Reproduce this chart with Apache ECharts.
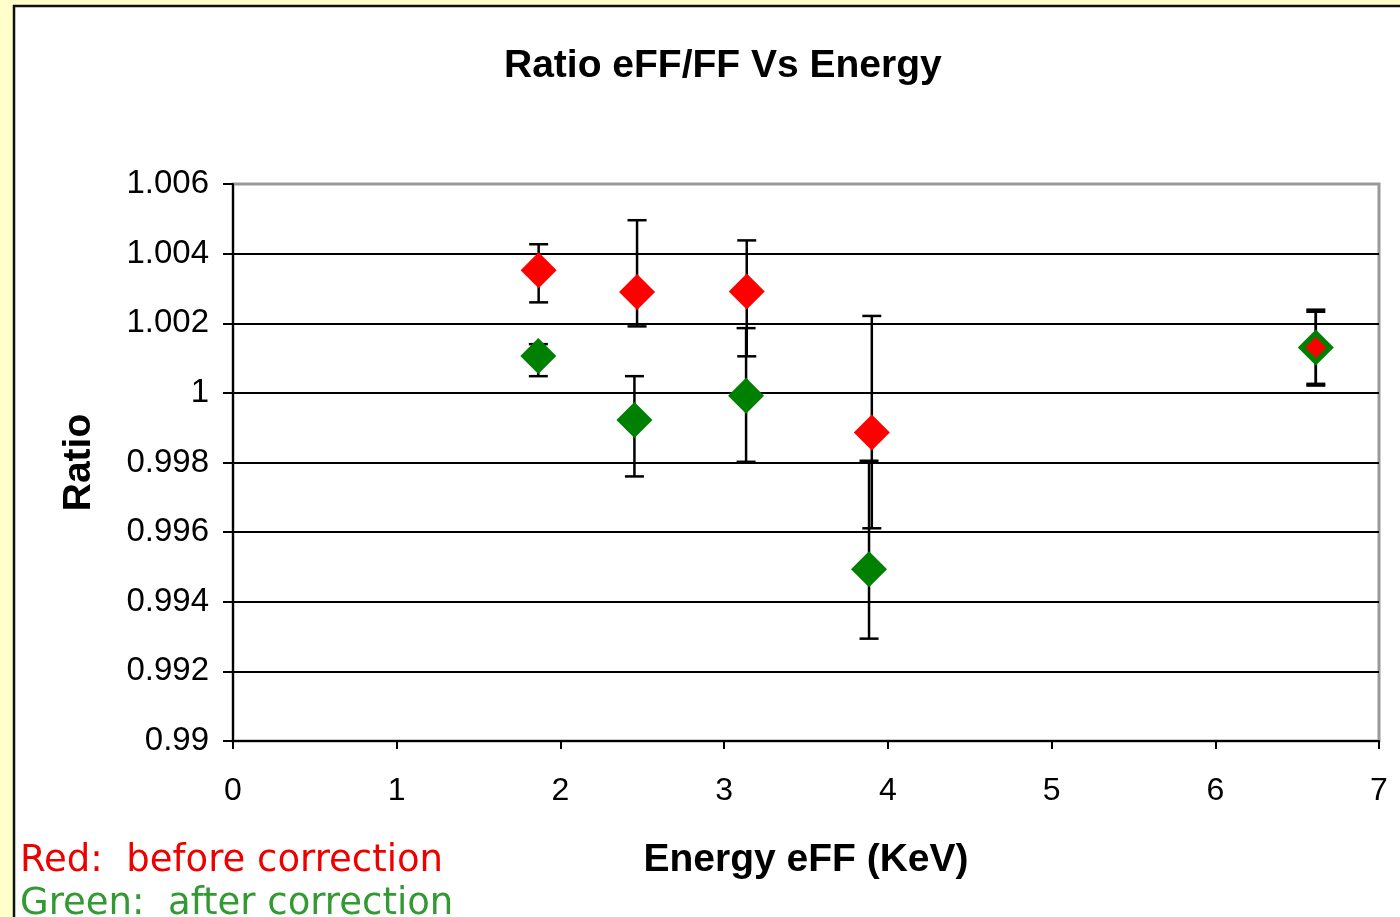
<!DOCTYPE html>
<html>
<head>
<meta charset="utf-8">
<title>Ratio eFF/FF Vs Energy</title>
<script src="https://cdn.jsdelivr.net/npm/echarts@6/dist/echarts.min.js"></script>
<style>
  html, body { margin: 0; padding: 0; background: #FFFFCC; }
  #chart { width: 1400px; height: 917px; }
</style>
</head>
<body>
<div id="chart"></div>
<script>
// Energy (KeV) and eFF/FF ratio, before correction (red)
const energyRed = [1.867, 2.468, 3.138, 3.902, 6.614];
const ratioRed  = [1.00352, 1.00290, 1.00291, 0.99886, 1.00130];
const redHigh   = [1.00427, 1.00496, 1.00438, 1.00221, 1.00239];
const redLow    = [1.00260, 1.00191, 1.00105, 0.99611, 1.00026];

// after correction (green)
const energyGreen = [1.865, 2.452, 3.134, 3.885, 6.614];
const ratioGreen  = [1.00106, 0.99922, 0.99992, 0.99493, 1.00130];
const greenHigh   = [1.00140, 1.00048, 1.00186, 0.99805, 1.00233];
const greenLow    = [1.00048, 0.99760, 0.99802, 0.99294, 1.00021];

// axis ticks
const yTicks = ['0.99', '0.992', '0.994', '0.996', '0.998', '1', '1.002', '1.004', '1.006'];
const xTicks = ['0', '1', '2', '3', '4', '5', '6', '7'];

const FONT = '"Liberation Sans", Arial, sans-serif';

function points(xs, ys) { return xs.map((x, i) => [x, ys[i]]); }
function bars(xs, lo, hi) { return xs.map((x, i) => [x, lo[i], hi[i]]); }

function errorBar(params, api) {
  const x = api.value(0);
  const top = api.coord([x, api.value(2)]);
  const bot = api.coord([x, api.value(1)]);
  const half = 9.5;
  const style = { stroke: '#000', lineWidth: 2.5 };
  return {
    type: 'group',
    children: [
      { type: 'line', shape: { x1: top[0], y1: top[1], x2: bot[0], y2: bot[1] }, style },
      { type: 'line', shape: { x1: top[0] - half, y1: top[1], x2: top[0] + half, y2: top[1] }, style },
      { type: 'line', shape: { x1: bot[0] - half, y1: bot[1], x2: bot[0] + half, y2: bot[1] }, style }
    ]
  };
}

// horizontal gridlines are black; the top edge of the plot stays grey
const gridColors = yTicks.map((t, i) => (i === yTicks.length - 1 ? '#999' : '#000'));

const chart = echarts.init(document.getElementById('chart'), null, { renderer: 'canvas' });

chart.setOption({
  backgroundColor: '#FFFFCC',
  animation: false,
  graphic: [
    { type: 'rect', z: -10, shape: { x: 14, y: 6, width: 1420, height: 940 },
      style: { fill: '#FFFFFF', stroke: '#111', lineWidth: 2.5 } },
    { type: 'text', left: 20, top: 843, z: 10,
      style: { text: 'Red:  before correction', fill: '#EE0000', font: '37px "DejaVu Sans", Verdana, sans-serif' } },
    { type: 'text', left: 20, top: 886, z: 10,
      style: { text: 'Green:  after correction', fill: '#339933', font: '37px "DejaVu Sans", Verdana, sans-serif' } }
  ],
  title: {
    text: 'Ratio eFF/FF Vs Energy',
    left: 499,
    top: 42,
    textStyle: { fontFamily: FONT, fontSize: 39, fontWeight: 'bold', color: '#000' }
  },
  grid: {
    left: 233, right: 21, top: 184, bottom: 176,
    show: true, borderColor: '#999', borderWidth: 3, backgroundColor: 'transparent'
  },
  xAxis: {
    type: 'value', min: 0, max: 7, interval: 1,
    name: 'Energy eFF (KeV)', nameLocation: 'middle', nameGap: 100,
    nameTextStyle: { fontFamily: FONT, fontSize: 39, fontWeight: 'bold', color: '#000' },
    axisLine: { onZero: false, lineStyle: { color: '#000', width: 2 } },
    axisTick: { show: true, length: 8, lineStyle: { color: '#000', width: 2 } },
    axisLabel: { fontFamily: FONT, fontSize: 32, color: '#000', margin: 34,
      formatter: (v) => xTicks[Math.round(v)] },
    splitLine: { show: false }
  },
  yAxis: {
    type: 'value', min: 0.99, max: 1.006, interval: 0.002,
    name: 'Ratio', nameLocation: 'middle', nameGap: 134,
    nameTextStyle: { fontFamily: FONT, fontSize: 39, fontWeight: 'bold', color: '#000' },
    axisLine: { show: true, lineStyle: { color: '#000', width: 2 } },
    axisTick: { show: true, length: 10, lineStyle: { color: '#000', width: 2 } },
    axisLabel: { fontFamily: FONT, fontSize: 33, color: '#000', margin: 24,
      formatter: (v) => yTicks[Math.round((v - 0.99) / 0.002)] },
    splitLine: { show: true, lineStyle: { color: gridColors, width: 2 } }
  },
  series: [
    { name: 'before errors', type: 'custom', renderItem: errorBar, z: 2,
      data: bars(energyRed, redLow, redHigh) },
    { name: 'after errors', type: 'custom', renderItem: errorBar, z: 2,
      data: bars(energyGreen, greenLow, greenHigh) },
    { name: 'after correction', type: 'scatter', symbol: 'diamond', z: 3,
      symbolSize: 36, itemStyle: { color: '#008000', opacity: 1 },
      data: points(energyGreen, ratioGreen) },
    { name: 'before correction', type: 'scatter', symbol: 'diamond', z: 4,
      symbolSize: (val, p) => (p.dataIndex === 4 ? 21 : 36), itemStyle: { color: '#FF0000', opacity: 1 },
      data: points(energyRed, ratioRed) }
  ]
});
</script>
</body>
</html>
